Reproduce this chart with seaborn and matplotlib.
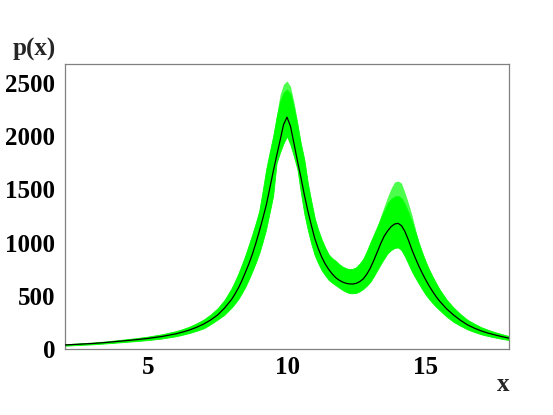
import matplotlib
matplotlib.use('Agg')
import matplotlib.pyplot as plt
import seaborn as sns
import pandas as pd
from matplotlib.ticker import MultipleLocator

# ---- data ----
x_vals = [2.0, 2.5, 3.0, 3.5, 4.0, 4.5, 5.0, 5.5, 6.0, 6.25,
          6.5, 6.75, 7.0, 7.25, 7.5, 7.75, 8.0, 8.125, 8.25, 8.375,
          8.5, 8.625, 8.75, 8.875, 9.0, 9.125, 9.25, 9.375, 9.5, 9.625,
          9.75, 9.875, 10.0, 10.125, 10.25, 10.375, 10.5, 10.625, 10.75, 10.875,
          11.0, 11.125, 11.25, 11.375, 11.5, 11.625, 11.75, 11.875, 12.0, 12.125,
          12.25, 12.375, 12.5, 12.625, 12.75, 12.875, 13.0, 13.125, 13.25, 13.375,
          13.5, 13.625, 13.75, 13.875, 14.0, 14.125, 14.25, 14.375, 14.5, 14.625,
          14.75, 14.875, 15.0, 15.125, 15.25, 15.375, 15.5, 15.75, 16.0, 16.25,
          16.5, 16.75, 17.0, 17.25, 17.5, 17.75, 18.0]

central = [38, 45, 52, 62, 74, 86, 100, 118, 143, 160,
           180, 205, 235, 273, 320, 385, 465, 517, 575, 643,
           720, 800, 890, 993, 1105, 1225, 1350, 1505, 1665, 1815,
           1960, 2110, 2180, 2095, 1935, 1770, 1615, 1450, 1300, 1165,
           1040, 945, 865, 800, 750, 707, 672, 648, 630, 618,
           612, 611, 618, 634, 660, 703, 760, 832, 910, 990,
           1060, 1110, 1150, 1175, 1182, 1160, 1105, 1025, 935, 855,
           780, 712, 650, 592, 540, 492, 450, 378, 320, 270,
           228, 196, 170, 149, 132, 116, 102]

band_hi = [45, 53, 61, 72, 86, 100, 117, 139, 168, 188,
           212, 242, 277, 325, 383, 462, 570, 638, 712, 795,
           882, 980, 1080, 1185, 1300, 1490, 1690, 1850, 2000, 2180,
           2330, 2410, 2440, 2400, 2270, 2110, 1930, 1780, 1560, 1390,
           1230, 1120, 1030, 955, 890, 855, 830, 800, 775, 760,
           750, 755, 770, 805, 850, 920, 1000, 1075, 1150, 1225,
           1300, 1370, 1410, 1435, 1440, 1420, 1360, 1285, 1200, 1100,
           1000, 905, 820, 745, 680, 618, 560, 465, 390, 328,
           275, 238, 205, 180, 158, 139, 122]

band_lo = [31, 38, 44, 53, 63, 73, 84, 99, 120, 135,
           152, 172, 195, 233, 277, 323, 389, 428, 472, 526,
           586, 655, 731, 812, 900, 1010, 1130, 1285, 1440, 1750,
           1850, 1935, 2000, 1920, 1810, 1690, 1470, 1270, 1120, 990,
           880, 805, 740, 693, 650, 623, 600, 577, 555, 538,
           525, 524, 528, 544, 565, 595, 630, 683, 740, 797,
           850, 900, 930, 950, 955, 930, 870, 800, 730, 670,
           615, 560, 510, 468, 430, 396, 365, 305, 255, 218,
           185, 160, 138, 122, 108, 95, 84]

band_outer = [45, 53, 61, 72, 86, 100, 117, 139, 168, 188,
              212, 242, 277, 325, 383, 462, 570, 638, 712, 795,
              882, 980, 1080, 1185, 1300, 1490, 1690, 1850, 2000, 2200,
              2390, 2490, 2520, 2470, 2320, 2140, 1930, 1780, 1560, 1390,
              1230, 1120, 1030, 955, 890, 855, 830, 800, 775, 760,
              750, 755, 770, 805, 850, 920, 1000, 1075, 1150, 1250,
              1340, 1430, 1510, 1570, 1580, 1560, 1470, 1370, 1260, 1130,
              1000, 905, 820, 745, 680, 618, 560, 465, 390, 328,
              275, 238, 205, 180, 158, 139, 122]

x_ticks = [5, 10, 15]
y_ticks = [0, 500, 1000, 1500, 2000, 2500]

# ---- style ----
sns.set_style('white')
plt.rcParams['font.family'] = ['Liberation Serif', 'DejaVu Serif']
plt.rcParams['font.weight'] = 'bold'

GREEN = '#00ff00'
FRAME = '#808080'

fig = plt.figure(figsize=(5.53, 4.15), dpi=100)
ax = fig.add_axes([65 / 553, 66 / 415, 444 / 553, 285 / 415])

df = pd.DataFrame({'x': x_vals, 'p': central, 'lo': band_lo,
                   'hi': band_hi, 'outer': band_outer})

ax.fill_between(df['x'], df['lo'], df['hi'], color=GREEN, lw=0.6,
                edgecolor=GREEN, zorder=1)
ax.fill_between(df['x'], df['hi'], df['outer'], color=GREEN, alpha=0.7,
                lw=0, zorder=1)
sns.lineplot(data=df, x='x', y='p', color='black', lw=0.9, ax=ax, zorder=3)

ax.set_xlim(2, 18)
ax.set_ylim(0, 2680)
ax.set_xticks(x_ticks)
ax.set_yticks(y_ticks)
ax.xaxis.set_minor_locator(MultipleLocator(1))
ax.yaxis.set_minor_locator(MultipleLocator(250))
ax.tick_params(which='both', direction='in', top=False, right=False,
               color=FRAME, width=0.8, labelcolor='black', labelsize=18)
ax.tick_params(which='major', length=5)
ax.tick_params(which='minor', length=2.5)
ax.tick_params(axis='x', pad=5)
ax.tick_params(axis='y', pad=7)
for lbl in ax.get_xticklabels() + ax.get_yticklabels():
    lbl.set_fontweight('bold')

ax.set_xlabel('')
ax.set_ylabel('')
for sp in ax.spines.values():
    sp.set_color(FRAME)
    sp.set_linewidth(0.9)

fig.text(56 / 553, (415 - 56) / 415, 'p(x)', ha='right', va='baseline',
         fontsize=18, fontweight='bold')
fig.text(509 / 553, (415 - 391) / 415, 'x', ha='right', va='baseline',
         fontsize=18, fontweight='bold')

fig.savefig('out.png', dpi=100, facecolor='white')
